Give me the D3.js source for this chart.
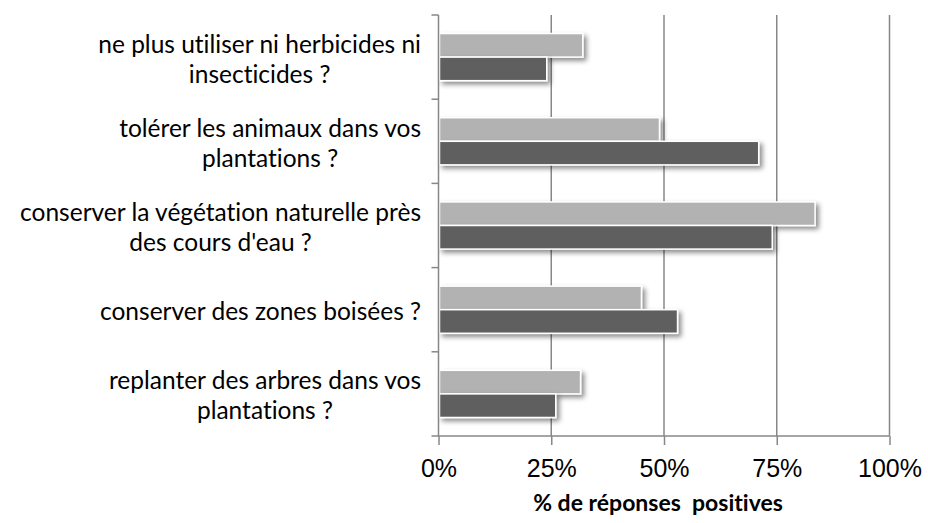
<!DOCTYPE html>
<html lang="fr">
  <head>
    <meta charset="UTF-8" />
    <title>réponses positives</title>
    <style>
      body {
        margin: 0;
        background: #fff;
      }
      svg {
        display: block;
        font-family: Lato, "Open Sans", sans-serif;
        font-variant-ligatures: none;
      }
      .cat-label {
        font-size: 24.5px;
        fill: #000;
      }
      .tick-label {
        font-size: 25px;
        fill: #000;
      }
      .x-title {
        font-size: 23px;
        font-weight: bold;
        white-space: pre;
      }
    </style>
    <script src="https://cdn.jsdelivr.net/npm/d3@7"></script>
  </head>
  <body>
    <div class="container"></div>
    <script>
      // catégories (de haut en bas), chaque libellé coupé comme dans l'original
      const categories = [
        "herbicides",
        "animaux",
        "vegetation",
        "zones",
        "arbres",
      ];
      const labelLines = [
        ["ne plus utiliser ni herbicides ni", "insecticides ?"],
        ["tolérer les animaux dans vos", "plantations ?"],
        ["conserver la végétation naturelle près", "des cours d'eau ?"],
        ["conserver des zones boisées ?"],
        ["replanter des arbres dans vos", "plantations ?"],
      ];
      const series = ["serie1", "serie2"];
      // % de réponses positives
      const serie1 = [32, 49, 83.5, 45, 31.5]; // gris clair
      const serie2 = [24, 71, 74, 53, 26]; // gris foncé
      const xTicks = [0, 25, 50, 75, 100];

      const width = 928,
        height = 523;
      const margin = { top: 15, right: 38.5, bottom: 87, left: 438.5 };

      const svg = d3
        .select(".container")
        .append("svg")
        .attr("width", width)
        .attr("height", height);

      const defs = svg.append("defs");
      const shadow = defs
        .append("filter")
        .attr("id", "shadow")
        .attr("x", "-10%")
        .attr("y", "-30%")
        .attr("width", "130%")
        .attr("height", "180%");
      shadow
        .append("feDropShadow")
        .attr("dx", 3)
        .attr("dy", 3)
        .attr("stdDeviation", 2.5)
        .attr("flood-color", "#000")
        .attr("flood-opacity", 0.45);

      const x = d3
        .scaleLinear()
        .domain([0, 100])
        .range([margin.left, width - margin.right]);

      const y0 = d3
        .scaleBand()
        .domain(categories)
        .range([margin.top, height - margin.bottom])
        .paddingInner(0.44)
        .paddingOuter(0.22);

      const y1 = d3
        .scaleBand()
        .domain(series)
        .range([0, y0.bandwidth()]);

      const color = d3
        .scaleOrdinal()
        .domain(series)
        .range(["#b2b2b2", "#5f5f5f"]);

      const axisColor = "#878787";
      const plotTop = margin.top,
        plotBottom = height - margin.bottom;
      const step = y0.step();

      // grille verticale
      svg
        .append("g")
        .selectAll("line")
        .data(xTicks.slice(1))
        .enter()
        .append("line")
        .attr("x1", (d) => x(d))
        .attr("x2", (d) => x(d))
        .attr("y1", plotTop)
        .attr("y2", plotBottom)
        .attr("stroke", axisColor)
        .attr("stroke-width", 1.5);

      // barres
      const rows = categories.map((c, i) => ({
        key: c,
        values: [
          { s: series[0], v: serie1[i] },
          { s: series[1], v: serie2[i] },
        ],
      }));

      const group = svg
        .append("g")
        .selectAll("g")
        .data(rows)
        .enter()
        .append("g")
        .attr("transform", (d) => "translate(0," + y0(d.key) + ")");

      group
        .selectAll("rect")
        .data((d) => d.values)
        .enter()
        .append("rect")
        .attr("x", x(0) + 1)
        .attr("y", (d) => y1(d.s))
        .attr("width", (d) => x(d.v) - x(0) - 1)
        .attr("height", y1.bandwidth())
        .attr("fill", (d) => color(d.s))
        .attr("stroke", "#fff")
        .attr("stroke-width", 1.5)
        .attr("filter", "url(#shadow)");

      // axe x
      const xAxis = svg
        .append("g")
        .attr("transform", "translate(0," + plotBottom + ")")
        .call(
          d3
            .axisBottom(x)
            .tickValues(xTicks)
            .tickSize(9)
            .tickSizeOuter(0)
            .tickPadding(9)
            .tickFormat((d) => d + "%")
        );
      xAxis.select(".domain").remove();
      xAxis
        .append("line")
        .attr("x1", x(0) - 7)
        .attr("x2", x(100))
        .attr("stroke", axisColor)
        .attr("stroke-width", 1.5);
      xAxis.selectAll(".tick line").attr("stroke", axisColor).attr("stroke-width", 1.5);
      xAxis
        .selectAll(".tick text")
        .attr("class", "tick-label")
        .attr("font-family", null)
        .attr("font-size", null)
        .attr("dy", "0.9em");

      // axe y (ticks entre les catégories)
      const yAxis = svg.append("g");
      yAxis
        .append("line")
        .attr("x1", x(0))
        .attr("x2", x(0))
        .attr("y1", plotTop)
        .attr("y2", plotBottom)
        .attr("stroke", axisColor)
        .attr("stroke-width", 1.5);
      yAxis
        .selectAll(".ytick")
        .data(d3.range(categories.length))
        .enter()
        .append("line")
        .attr("x1", x(0) - 7)
        .attr("x2", x(0))
        .attr("y1", (i) => plotTop + i * step)
        .attr("y2", (i) => plotTop + i * step)
        .attr("stroke", axisColor)
        .attr("stroke-width", 1.5);

      // libellés des catégories, lignes centrées, bloc aligné à droite
      const lineH = 30;
      const labelRight = 421;
      const labels = svg
        .append("g")
        .selectAll("text")
        .data(categories)
        .enter()
        .append("text")
        .attr("class", "cat-label")
        .attr("text-anchor", "middle");

      labels.each(function (c, i) {
        const t = d3.select(this);
        const lines = labelLines[i];
        const cy = y0(c) + y0.bandwidth() / 2 + 2;
        lines.forEach((l, j) => {
          t.append("tspan")
            .attr("y", cy + (j - (lines.length - 1) / 2) * lineH)
            .attr("dy", "0.35em")
            .text(l);
        });
        let maxW = 0;
        t.selectAll("tspan").each(function () {
          maxW = Math.max(maxW, this.getComputedTextLength());
        });
        t.selectAll("tspan").attr("x", labelRight - maxW / 2);
      });

      // titre de l'axe x
      svg
        .append("text")
        .attr("class", "x-title")
        .attr("x", (x(0) + x(100)) / 2 - 6)
        .attr("y", 511)
        .attr("text-anchor", "middle")
        .text("% de réponses  positives");
    </script>
  </body>
</html>
